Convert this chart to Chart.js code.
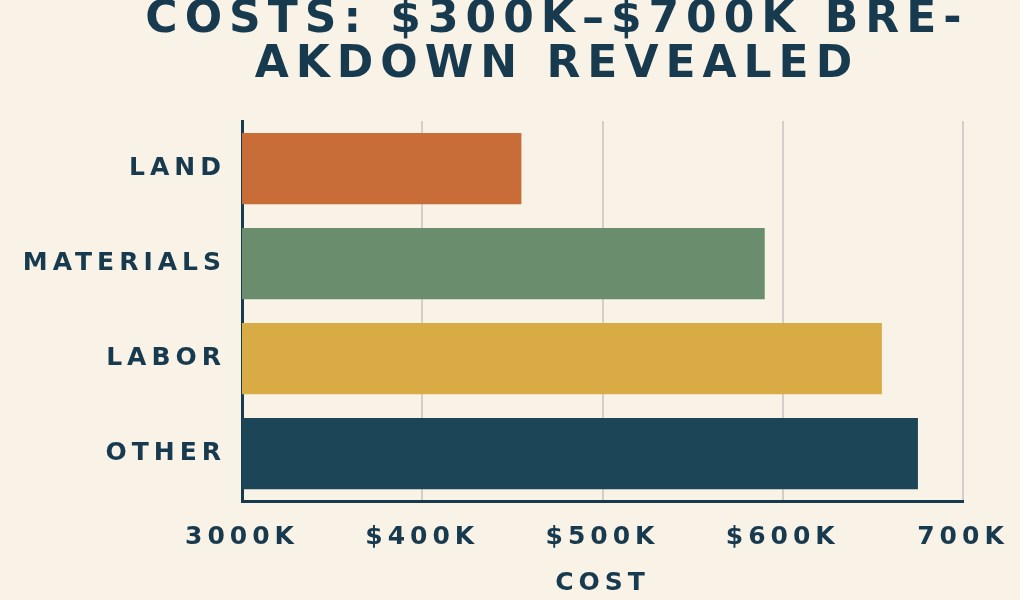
<!DOCTYPE html>
<html>
<head>
<meta charset="utf-8">
<title>Costs breakdown</title>
<script src="https://cdn.jsdelivr.net/npm/chart.js@4"></script>
<style>
    html, body { margin: 0; padding: 0; background: #f9f2e7; }
    .chart-box { width: 1020px; height: 600px; position: relative; }
</style>
</head>
<body>
<div class="chart-box"><canvas id="costChart"></canvas></div>
<script>
// Data (thousands of dollars)
const categories = ['LAND', 'MATERIALS', 'LABOR', 'OTHER'];
const costValues = [455, 590, 655, 675];
const barColors = ['#c96d38', '#6a8d6d', '#d9ab45', '#1d4558'];
const xTickLabels = ['3000K', '$400K', '$500K', '$600K', '700K'];
const titleLines = ['COSTS: $300K\u2013$700K BRE-', 'AKDOWN REVEALED'];
const axisTitle = 'COST';

const navy = '#173a4e';
const fontFamily = '"DejaVu Sans", Verdana, sans-serif';

// wide lettering like the reference
const letterSpacing = {
    id: 'letterSpacing',
    beforeLayout(chart) { chart.ctx.letterSpacing = '5px'; },
    beforeDraw(chart) { chart.ctx.letterSpacing = '5px'; }
};

// two line title, centered a bit right of the canvas middle
const headline = {
    id: 'headline',
    afterDraw(chart) {
        const ctx = chart.ctx;
        ctx.save();
        ctx.letterSpacing = '7px';
        ctx.font = 'bold 44px ' + fontFamily;
        ctx.fillStyle = navy;
        ctx.textAlign = 'center';
        ctx.textBaseline = 'alphabetic';
        const cx = chart.width * 0.546;
        ctx.fillText(titleLines[0], cx, 32);
        ctx.fillText(titleLines[1], cx, 77);
        ctx.restore();
    }
};

const ctx = document.getElementById('costChart').getContext('2d');
new Chart(ctx, {
    type: 'bar',
    data: {
        labels: categories,
        datasets: [{
            label: 'Cost',
            data: costValues,
            backgroundColor: barColors,
            borderWidth: 0,
            categoryPercentage: 1,
            barPercentage: 0.75
        }]
    },
    options: {
        indexAxis: 'y',
        responsive: true,
        maintainAspectRatio: false,
        animation: false,
        layout: { padding: { top: 121, right: 57, left: 0, bottom: 0 } },
        plugins: {
            legend: { display: false },
            tooltip: { enabled: false }
        },
        scales: {
            x: {
                min: 300,
                max: 700,
                ticks: {
                    stepSize: 100,
                    padding: 7,
                    color: navy,
                    font: { family: fontFamily, size: 25, weight: 'bold' },
                    callback: (value, index) => xTickLabels[index]
                },
                grid: {
                    color: '#d4cfc6',
                    lineWidth: 2,
                    drawTicks: true,
                    tickLength: 14,
                    tickColor: 'rgba(0,0,0,0)'
                },
                border: { color: navy, width: 3 },
                title: {
                    display: true,
                    text: axisTitle,
                    color: navy,
                    font: { family: fontFamily, size: 25, weight: 'bold' },
                    padding: { top: 0, bottom: 2 }
                },
                afterFit: scale => { scale.height = 99; }
            },
            y: {
                ticks: {
                    padding: 16,
                    color: navy,
                    font: { family: fontFamily, size: 25, weight: 'bold' }
                },
                grid: { display: false, drawTicks: false },
                border: { color: navy, width: 3 },
                afterFit: scale => { scale.width = 242; }
            }
        }
    },
    plugins: [letterSpacing, headline]
});
</script>
</body>
</html>
